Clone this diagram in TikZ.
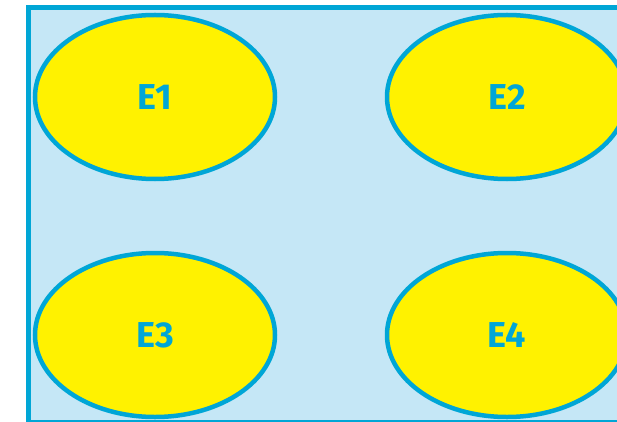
\documentclass[tikz,border=0pt]{standalone}
\usepackage{fontspec}
\setmainfont{Fira Sans}
\usetikzlibrary{shapes.geometric}
\definecolor{bord}{HTML}{00A6D6}
\definecolor{bgblue}{HTML}{C5E7F6}
\definecolor{yel}{HTML}{FFF200}
\tikzset{
  ell/.style={ellipse, draw=bord, fill=yel, line width=4.5pt, minimum width=240pt, minimum height=164pt, inner sep=0pt,
    text=bord, font=\fontsize{36}{40}\selectfont\bfseries},
}
\begin{document}
\begin{tikzpicture}[x=1pt,y=-1pt]
\useasboundingbox (0,0) rectangle (617,422);
\clip (0,0) rectangle (617,422);
\draw[draw=bord, fill=bgblue, line width=5pt] (28.5,7.5) rectangle (660,422);
\node[ell] (e1) at (155,97) {E1};
\node[ell] (e2) at (507,97) {E2};
\node[ell] (e3) at (155,335) {E3};
\node[ell] (e4) at (507,335) {E4};
\end{tikzpicture}
\end{document}
